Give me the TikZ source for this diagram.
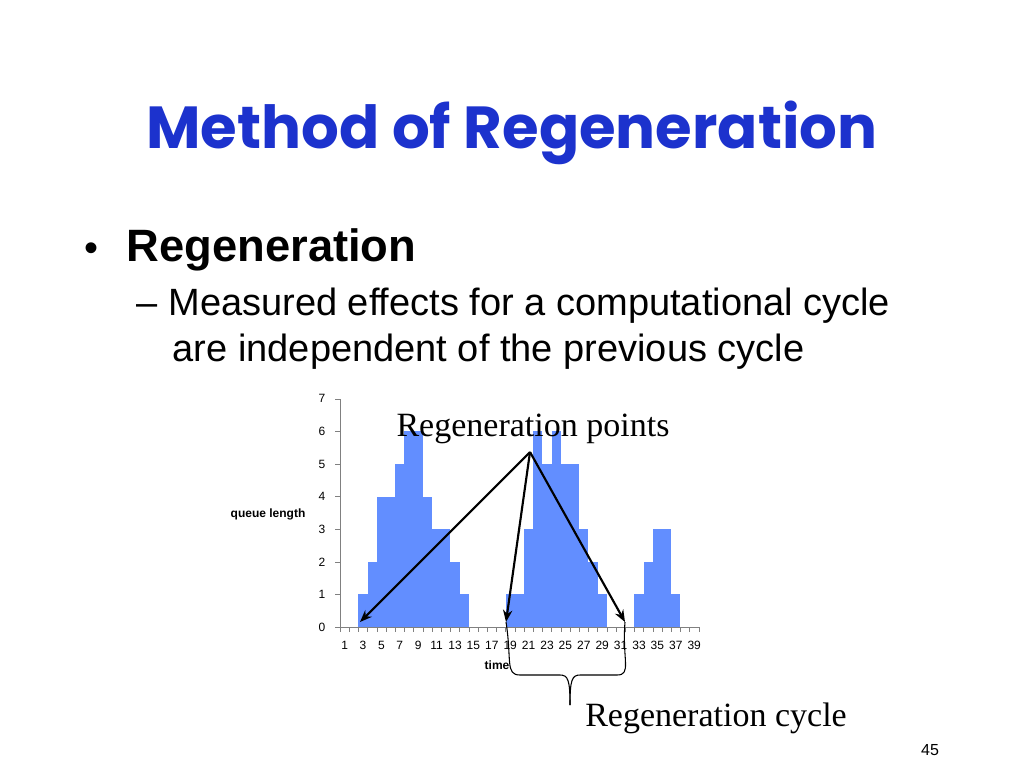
\documentclass[tikz,border=0pt]{standalone}
\usepackage{fontspec}
\setmainfont{Liberation Sans}
\newfontfamily\titlefont{Poppins}
\newfontfamily\seriffont{Liberation Serif}
\usetikzlibrary{arrows.meta}
\definecolor{titleblue}{RGB}{28,50,205}
\definecolor{barblue}{RGB}{98,142,255}
\begin{document}
\begin{tikzpicture}[x=0.75pt,y=-0.75pt]
    \tikzstyle{bar}=[fill=barblue,draw=none]
    \tikzstyle{tick}=[font=\fontsize{9}{10}\selectfont]
    \tikzstyle{pointer}=[line width=1.6pt,-{Stealth[length=9pt,width=7pt]}]
    \useasboundingbox (0,0) rectangle (1024,768);

    % title and bullets
    \node (title) at (512,133) {\titlefont\bfseries\fontsize{44.5}{52}\selectfont\color{titleblue}Method of Regeneration};
    \node[anchor=west] (dot) at (80,252) {\fontsize{30}{34}\selectfont\textbullet};
    \node[anchor=west] (head) at (122,250) {\fontsize{34}{40}\selectfont\bfseries Regeneration};
    \node[anchor=north west,align=left,font=\fontsize{28.5}{35}\selectfont] (sub) at (132,283) {%
        -- Measured effects for a computational cycle\\
        \hspace{0.95em}are independent of the previous cycle};

    % bars
    \foreach \h [count=\i] in {0,0,1,2,4,4,5,6,6,4,3,3,2,1,0,0,0,0,1,1,3,6,5,6,5,5,3,2,1,0,0,0,1,2,3,3,1,0,0}
        \fill[bar] (340+9.2*\i-9.2,627) rectangle (340+9.2*\i,627-32.6*\h);

    % axes
    \draw[gray] (340,399) -- (340,627) -- (699,627);
    \foreach \k in {0,...,7} {
        \draw[gray] (335,627-32.6*\k) -- (340,627-32.6*\k);
        \node[tick,anchor=east] at (330,627-32.6*\k) {\k};
    }
    \foreach \i in {0,...,39}
        \draw[gray] (340+9.2*\i,627) -- (340+9.2*\i,632);
    \foreach \i in {1,3,...,39}
        \node[tick] at (335.4+9.2*\i,645) {\i};
    \node[tick,font=\fontsize{9}{10}\selectfont\bfseries] (ylab) at (268,514) {queue length};
    \node[tick,font=\fontsize{9}{10}\selectfont\bfseries] (xlab) at (497,665) {time};

    % regeneration points
    \node[font=\seriffont\fontsize{25.5}{30}\selectfont] (points) at (533,429) {Regeneration points};
    \coordinate (src) at (530,452);
    \coordinate (p1) at (360,622);
    \coordinate (p2) at (506,622);
    \coordinate (p3) at (625,622);
    \draw[pointer] (src) -- (p1);
    \draw[pointer] (src) -- (p2);
    \draw[pointer] (src) -- (p3);

    % cycle brace
    \coordinate (tip) at (570,705);
    \draw[thick] (p2) .. controls (512,660) and (505,675) .. (520,675)
        -- (560,675) .. controls (568,675) and (570,680) .. (tip);
    \draw[thick] (p3) .. controls (622,660) and (632,675) .. (617,675)
        -- (580,675) .. controls (572,675) and (570,680) .. (tip);
    \node[font=\seriffont\fontsize{25.5}{30}\selectfont] (cycle) at (716,718) {Regeneration cycle};
    \node[font=\fontsize{12}{14}\selectfont] (page) at (930,750) {45};
\end{tikzpicture}
\end{document}
